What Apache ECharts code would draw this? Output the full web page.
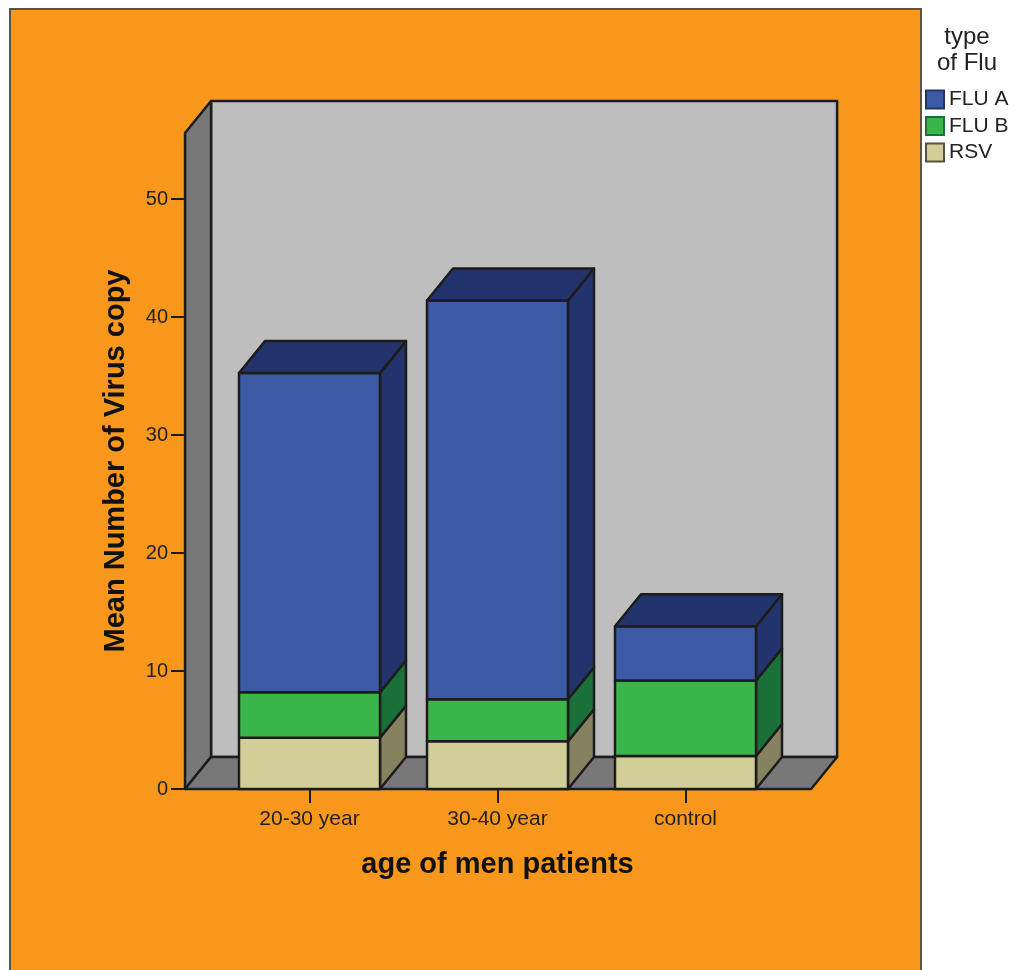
<!DOCTYPE html>
<html>
<head>
<meta charset="utf-8">
<title>Mean Number of Virus copy</title>
<script src="https://cdn.jsdelivr.net/npm/echarts@6/dist/echarts.min.js"></script>
<style>
  html, body { margin: 0; padding: 0; background: #fff; }
  #main { width: 1009px; height: 970px; }
</style>
</head>
<body>
<div id="main"></div>
<script>
// values
var categories = ['20-30 year', '30-40 year', 'control'];
var rsv = [4.35, 4.05, 2.8];
var fluB = [3.85, 3.55, 6.4];
var fluA = [27.05, 33.8, 4.6];
var yTicks = [0, 10, 20, 30, 40, 50];
var yMax = 55.6;

var depthX = 26;
var depthY = 32;
var edge = '#1c1c1c';
var font = '"Liberation Sans", Arial, sans-serif';

function poly(points, fill) {
  return {
    type: 'polygon',
    shape: { points: points },
    style: { fill: fill, stroke: edge, lineWidth: 2.5, lineJoin: 'round' }
  };
}

function renderWalls(params, api) {
  var band = api.size([1, 0])[0];
  var left = api.coord([0, 0])[0] - 0.662 * band;
  var right = api.coord([2, 0])[0] + 0.668 * band;
  var y0 = api.coord([0, 0])[1];
  var yTop = api.coord([0, yMax])[1];
  return {
    type: 'group',
    children: [
      poly([[left + depthX, yTop - depthY], [right + depthX, yTop - depthY], [right + depthX, y0 - depthY], [left + depthX, y0 - depthY]], '#bebebe'),
      poly([[left, y0], [left + depthX, y0 - depthY], [left + depthX, yTop - depthY], [left, yTop]], '#787878'),
      poly([[left, y0], [left + depthX, y0 - depthY], [right + depthX, y0 - depthY], [right, y0]], '#787878')
    ]
  };
}

function barRenderer(front, dark, isTop) {
  return function (params, api) {
    var c = api.value(0);
    var half = api.size([1, 0])[0] * 0.375;
    var x = api.coord([c, 0])[0];
    var yLow = api.coord([c, api.value(1)])[1];
    var yHigh = api.coord([c, api.value(2)])[1];
    var l = x - half, r = x + half;
    var children = [
      poly([[r, yLow], [r + depthX, yLow - depthY], [r + depthX, yHigh - depthY], [r, yHigh]], dark),
      poly([[l, yLow], [r, yLow], [r, yHigh], [l, yHigh]], front)
    ];
    if (isTop) {
      children.push(poly([[l, yHigh], [l + depthX, yHigh - depthY], [r + depthX, yHigh - depthY], [r, yHigh]], dark));
    }
    return { type: 'group', children: children };
  };
}

function stacked(values, below) {
  return values.map(function (v, i) {
    var base = 0;
    below.forEach(function (b) { base += b[i]; });
    return [i, base, base + v];
  });
}

function barSeries(name, data, front, dark, isTop) {
  return {
    name: name,
    type: 'custom',
    coordinateSystem: 'cartesian2d',
    renderItem: barRenderer(front, dark, isTop),
    encode: { x: 0, y: [1, 2] },
    itemStyle: { color: front },
    clip: false,
    silent: true,
    z: 3,
    data: data
  };
}

var chart = echarts.init(document.getElementById('main'));
chart.setOption({
  animation: false,
  backgroundColor: '#fff',
  grid: { left: 215.5, right: 229.5, top: 133, bottom: 181 },
  graphic: [
    {
      type: 'rect',
      z: -10,
      shape: { x: 10, y: 9, width: 911, height: 975 },
      style: { fill: '#f7981d', stroke: '#5e5240', lineWidth: 2 }
    },
    {
      type: 'text',
      z: 10,
      x: 967,
      y: 24,
      style: { text: 'type\nof Flu', font: '24px ' + font, fill: '#222', align: 'center', lineHeight: 26 }
    }
  ],
  legend: {
    left: 925,
    top: 89,
    padding: 0,
    orient: 'vertical',
    icon: 'rect',
    itemWidth: 18,
    itemHeight: 18,
    itemGap: 5.5,
    selectedMode: false,
    textStyle: { fontFamily: font, fontSize: 21, color: '#222' },
    data: [
      { name: 'FLU A', itemStyle: { color: '#3c5aa6', borderColor: '#23346c', borderWidth: 2 } },
      { name: 'FLU B', itemStyle: { color: '#39b54a', borderColor: '#1a7039', borderWidth: 2 } },
      { name: 'RSV', itemStyle: { color: '#d3ce97', borderColor: '#555340', borderWidth: 2 } }
    ]
  },
  xAxis: {
    type: 'category',
    data: categories,
    name: 'age of men patients',
    nameLocation: 'middle',
    nameGap: 61,
    nameTextStyle: { fontFamily: font, fontSize: 29, fontWeight: 'bold', color: '#111' },
    axisLine: { show: false },
    axisTick: { show: true, alignWithLabel: true, length: 14, lineStyle: { color: edge, width: 2 } },
    axisLabel: { fontFamily: font, fontSize: 21, color: '#222', margin: 20, interval: 0 },
    splitLine: { show: false }
  },
  yAxis: {
    type: 'value',
    min: 0,
    max: yMax,
    offset: 30.5,
    name: 'Mean Number of Virus copy',
    nameLocation: 'middle',
    nameGap: 55,
    nameTextStyle: { fontFamily: font, fontSize: 29, fontWeight: 'bold', color: '#111' },
    axisLine: { show: true, lineStyle: { color: edge, width: 2.5 } },
    axisTick: { show: true, customValues: yTicks, length: 14, lineStyle: { color: edge, width: 2 } },
    axisLabel: { customValues: yTicks, fontFamily: font, fontSize: 20, color: '#222', margin: 17 },
    splitLine: { show: false }
  },
  series: [
    {
      type: 'custom',
      coordinateSystem: 'cartesian2d',
      renderItem: renderWalls,
      encode: { x: 0, y: 1 },
      clip: false,
      silent: true,
      z: 1,
      data: [[0, 0]]
    },
    barSeries('RSV', stacked(rsv, []), '#d3ce97', '#858260', false),
    barSeries('FLU B', stacked(fluB, [rsv]), '#39b54a', '#1a7039', false),
    barSeries('FLU A', stacked(fluA, [rsv, fluB]), '#3c5aa6', '#23346c', true)
  ]
});
</script>
</body>
</html>
